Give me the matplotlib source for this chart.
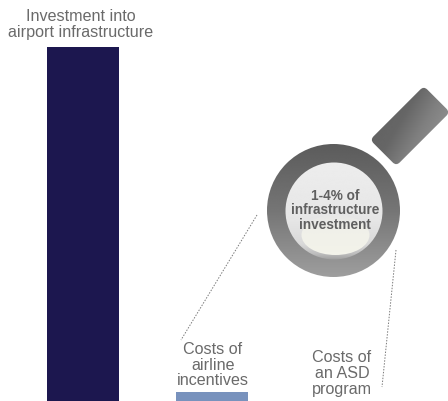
import numpy as np
import matplotlib
matplotlib.use("Agg")
import matplotlib.pyplot as plt
from matplotlib.patches import Circle, Ellipse, FancyBboxPatch
from matplotlib.transforms import Affine2D

# Relative cost, with airport infrastructure investment as 100
categories = ["Investment into\nairport infrastructure", "Costs of\nairline\nincentives"]
values = [100, 2.5]
bar_colors = ["#1c174f", "#7892bd"]
asd_label = "Costs of\nan ASD\nprogram"
lens_label = "1-4% of\ninfrastructure\ninvestment"

W, H = 448, 401
plt.rcParams["font.family"] = ["Liberation Sans", "DejaVu Sans"]
TEXT = "#6a6a6a"

fig = plt.figure(figsize=(W / 100, H / 100), dpi=100, facecolor="white")

# Bars use a value scale: 100 units span 354 pixels from the bottom edge
ax = fig.add_axes([0, 0, 1, 1])
ax.set_xlim(0, W)
ax.set_ylim(0, H * 100 / 354)
ax.axis("off")
ax.bar([83, 212], values, width=72, color=bar_colors, linewidth=0)

# Overlay in pixel coordinates for the annotations and magnifier
ov = fig.add_axes([0, 0, 1, 1], facecolor="none")
ov.set_xlim(0, W)
ov.set_ylim(H, 0)
ov.axis("off")


def ramp(angle_deg, stops, n=256):
    """Linear ramp through the given stops; the angle is measured in image space."""
    xs, ys = np.meshgrid(np.linspace(0, 1, n), np.linspace(0, 1, n))
    a = np.deg2rad(angle_deg)
    t = xs * np.cos(a) + ys * np.sin(a)
    t = (t - t.min()) / (t.max() - t.min())
    pos, vals = zip(*stops)
    return np.interp(t, pos, vals)


def gradient(extent, stops, angle_deg=90, zorder=3):
    x0, x1, y0, y1 = extent
    return ov.imshow(ramp(angle_deg, stops), extent=[x0, x1, y1, y0], cmap="gray", vmin=0, vmax=1,
                     origin="upper", aspect="auto", zorder=zorder, interpolation="bilinear")


# Handle of the magnifier: a rounded bar turned by 45 degrees
hcx, hcy = 410, 126
hl, hw = 76, 37
rot = Affine2D().rotate_deg_around(hcx, hcy, -45) + ov.transData
handle = FancyBboxPatch((hcx - hl / 2 + 4, hcy - hw / 2 + 4), hl - 8, hw - 8,
                        boxstyle="round,pad=4,rounding_size=5", transform=rot,
                        facecolor="none", edgecolor="none")
ov.add_patch(handle)
im = gradient((360, 460, 76, 176), [(0, .36), (.42, .40), (.58, .50), (1, .68)], angle_deg=30)
im.set_clip_path(handle)

# Lens ring
ring = Circle((333.5, 210.5), 66.5, facecolor="none", edgecolor="none")
ov.add_patch(ring)
im = gradient((267, 400, 144, 277), [(0, .36), (.5, .46), (1, .62)], zorder=4)
im.set_clip_path(ring)

# Glass, lit from above with a darker rim along the bottom
glass = Circle((334, 211), 48.5, facecolor="none", edgecolor="none")
ov.add_patch(glass)
im = gradient((285, 383, 162, 260), [(0, .93), (.6, .90), (.84, .85), (.94, .74), (1, .62)], zorder=5)
im.set_clip_path(glass)

# Bright reflection fading out towards its top
glow = Ellipse((335.5, 235), 68, 40, facecolor="none", edgecolor="none")
ov.add_patch(glow)
rgba = np.ones((256, 256, 4))
rgba[..., :3] = [0.96, 0.96, 0.925]
rgba[..., 3] = ramp(90, [(0, .1), (.4, .85), (1, 1)])
im = ov.imshow(rgba, extent=[300, 371, 255, 215], origin="upper", aspect="auto", zorder=6)
im.set_clip_path(glow)
ov.set_xlim(0, W)
ov.set_ylim(H, 0)

# Dotted leader lines
for xs, ys in [((257, 181), (215, 340)), ((396, 382), (250, 387))]:
    ov.plot(xs, ys, color="#7a7a7a", lw=0.7, ls=(0, (1.5, 1.5)), zorder=2)

# Labels
label_kw = dict(ha="center", va="center", color=TEXT, fontsize=11.6, zorder=7)
ov.text(81, 24.5, categories[0], linespacing=1.02, **label_kw)
ov.text(213, 365, categories[1], linespacing=1.07, **label_kw)
ov.text(342, 373.5, asd_label, linespacing=1.07, **label_kw)
ov.text(335, 210.5, lens_label, ha="center", va="center", color="#5f5f5f",
        fontsize=9.8, fontweight="bold", linespacing=1.08, zorder=7)

fig.savefig("out.png", dpi=100, facecolor="white")
